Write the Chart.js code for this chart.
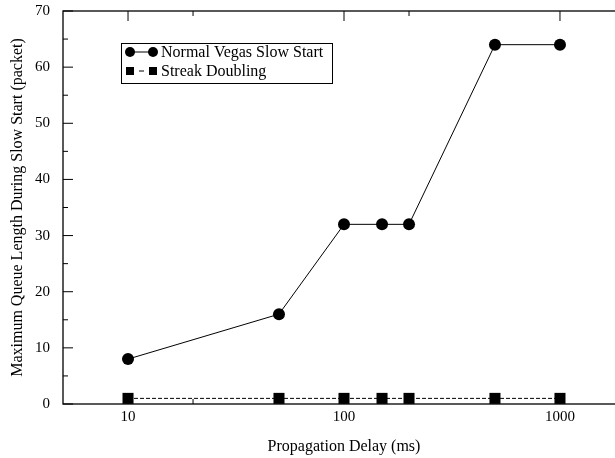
<!DOCTYPE html>
<html>
<head>
<meta charset="utf-8">
<script src="https://cdn.jsdelivr.net/npm/chart.js@4/dist/chart.umd.min.js"></script>
<style>
  html, body { margin: 0; padding: 0; background: #fff; overflow: hidden; }
  #wrap { width: 640px; height: 458px; }
</style>
</head>
<body>
<div id="wrap"><canvas id="chart" width="640" height="458"></canvas></div>
<script>
// DATA
var delays = [10, 50, 100, 150, 200, 500, 1000];
var vegasQueue = [8, 16, 32, 32, 32, 64, 64];
var streakQueue = [1, 1, 1, 1, 1, 1, 1];
var seriesNames = ['Normal Vegas Slow Start', 'Streak Doubling'];
var xLabelTicks = [10, 100, 1000];
var xMinorTicks = [20, 200, 2000];
var yLabelTicks = [0, 10, 20, 30, 40, 50, 60, 70];
var yMinorTicks = [5, 15, 25, 35, 45, 55, 65];

var serif = '"Liberation Serif", "DejaVu Serif", serif';

function toPoints(xs, ys) {
    return xs.map(function (x, i) { return { x: x, y: ys[i] }; });
}

// frame + inward ticks, like the original plot
var frameTicks = {
    id: 'frameTicks',
    afterDraw: function (chart) {
        var ctx = chart.ctx;
        var a = chart.chartArea;
        var xs = chart.scales.x;
        var ys = chart.scales.y;
        ctx.save();
        ctx.strokeStyle = '#000';
        ctx.lineWidth = 1.3;
        ctx.strokeRect(a.left, a.top, a.right - a.left, a.bottom - a.top);
        ctx.lineWidth = 1;
        ctx.beginPath();
        function xt(v, len) {
            var px = xs.getPixelForValue(v);
            ctx.moveTo(px, a.bottom); ctx.lineTo(px, a.bottom - len);
            ctx.moveTo(px, a.top); ctx.lineTo(px, a.top + len);
        }
        function yt(v, len) {
            var py = ys.getPixelForValue(v);
            ctx.moveTo(a.left, py); ctx.lineTo(a.left + len, py);
            ctx.moveTo(a.right, py); ctx.lineTo(a.right - len, py);
        }
        xLabelTicks.forEach(function (v) { xt(v, 10); });
        xMinorTicks.forEach(function (v) { xt(v, 5); });
        yLabelTicks.forEach(function (v) { yt(v, 10); });
        yMinorTicks.forEach(function (v) { yt(v, 5); });
        ctx.stroke();
        ctx.restore();
    }
};

// legend box with marker-line-marker samples
var legendBox = {
    id: 'legendBox',
    afterDraw: function (chart) {
        var ctx = chart.ctx;
        var bx = 121, by = 43, bw = 211, bh = 40;
        ctx.save();
        ctx.fillStyle = '#fff';
        ctx.fillRect(bx, by, bw, bh);
        ctx.strokeStyle = '#000';
        ctx.lineWidth = 1;
        ctx.strokeRect(bx + 0.5, by + 0.5, bw, bh);

        var rows = [52, 71];
        chart.data.datasets.forEach(function (ds, i) {
            var y = rows[i];
            ctx.strokeStyle = '#000';
            ctx.fillStyle = '#000';
            ctx.lineWidth = 1;
            ctx.beginPath();
            if (ds.borderDash) {
                ctx.moveTo(139, y); ctx.lineTo(144, y);
            } else {
                ctx.moveTo(130, y); ctx.lineTo(153, y);
            }
            ctx.stroke();
            [130, 153].forEach(function (cx) {
                if (ds.pointStyle === 'rect') {
                    ctx.fillRect(cx - 4, y - 4, 8, 8);
                } else {
                    ctx.beginPath();
                    ctx.arc(cx, y, 5, 0, Math.PI * 2);
                    ctx.fill();
                }
            });
            ctx.font = '16px ' + serif;
            ctx.textBaseline = 'middle';
            ctx.textAlign = 'left';
            ctx.fillText(ds.label, 161, y + 1);
        });
        ctx.restore();
    }
};

new Chart(document.getElementById('chart'), {
    type: 'line',
    data: {
        datasets: [{
            label: seriesNames[0],
            data: toPoints(delays, vegasQueue),
            borderColor: '#000',
            backgroundColor: '#000',
            borderWidth: 1,
            pointStyle: 'circle',
            pointRadius: 6,
            pointBorderWidth: 0,
            tension: 0
        }, {
            label: seriesNames[1],
            data: toPoints(delays, streakQueue),
            borderColor: '#000',
            backgroundColor: '#000',
            borderWidth: 1,
            borderDash: [4, 2],
            pointStyle: 'rect',
            pointRadius: 7.8,
            pointBorderWidth: 0,
            tension: 0
        }]
    },
    options: {
        responsive: false,
        animation: false,
        layout: { padding: { left: 0, right: 15, top: 11, bottom: 0 } },
        plugins: {
            legend: { display: false },
            tooltip: { enabled: false }
        },
        scales: {
            x: {
                type: 'logarithmic',
                min: 5,
                max: 2000,
                grid: { display: false, drawTicks: false },
                border: { display: false },
                afterBuildTicks: function (scale) {
                    scale.ticks = xLabelTicks.map(function (v) { return { value: v }; });
                },
                afterFit: function (scale) {
                    scale.height = 54;
                    scale.paddingLeft = 0;
                    scale.paddingRight = 0;
                },
                ticks: {
                    autoSkip: false,
                    maxRotation: 0,
                    padding: 4,
                    color: '#000',
                    font: { family: serif, size: 15 },
                    callback: function (v) { return String(v); }
                },
                title: {
                    display: true,
                    text: 'Propagation Delay (ms)',
                    color: '#000',
                    font: { family: serif, size: 16 },
                    padding: { top: 0, bottom: 1.6 }
                }
            },
            y: {
                min: 0,
                max: 70,
                grid: { display: false, drawTicks: false },
                border: { display: false },
                afterBuildTicks: function (scale) {
                    scale.ticks = yLabelTicks.map(function (v) { return { value: v }; });
                },
                afterFit: function (scale) {
                    scale.width = 63;
                    scale.paddingTop = 0;
                    scale.paddingBottom = 0;
                },
                ticks: {
                    padding: 13,
                    color: '#000',
                    font: { family: serif, size: 15 }
                },
                title: {
                    display: true,
                    text: 'Maximum Queue Length During Slow Start (packet)',
                    color: '#000',
                    font: { family: serif, size: 16 },
                    padding: { top: 8.6, bottom: 0 }
                }
            }
        }
    },
    plugins: [frameTicks, legendBox]
});
</script>
</body>
</html>
